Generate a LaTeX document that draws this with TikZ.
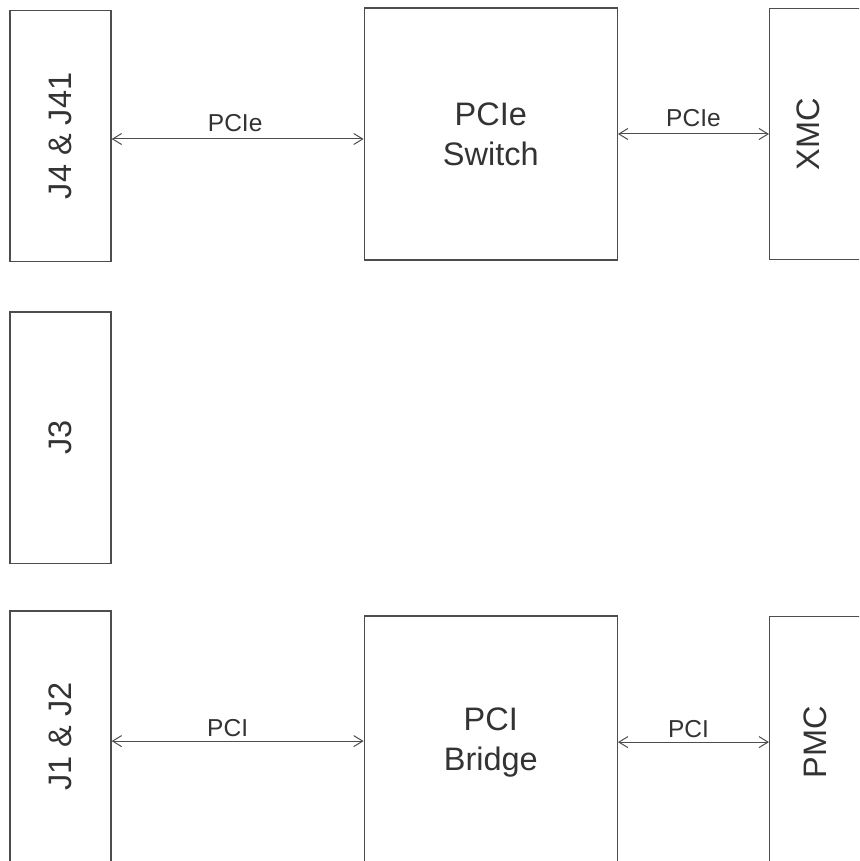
\documentclass[tikz,border=0pt]{standalone}
\usepackage{fontspec}
\setmainfont{Liberation Sans}
\usepackage{graphicx}
\usetikzlibrary{arrows.meta,positioning}
\definecolor{boxgray}{RGB}{77,77,77}
\definecolor{textgray}{RGB}{51,51,51}
\tikzset{
 slot/.style={
 rectangle,
 draw=boxgray,
 line width=1.3pt,
 minimum width=101pt,
 minimum height=251.5pt,
 inner sep=0pt,
 text=textgray,
 font=\fontsize{32.5}{40}\selectfont
 },
 chip/.style={
 rectangle,
 draw=boxgray,
 line width=1.3pt,
 minimum width=253pt,
 minimum height=252pt,
 inner sep=0pt,
 align=center,
 text=textgray,
 font=\fontsize{32.5}{40}\selectfont
 },
 buslink/.style={{Straight Barb[length=9pt,width=11pt]}-{Straight Barb[length=9pt,width=11pt]}, line width=1pt, draw=boxgray},
 buslabel/.style={inner sep=0pt, text=textgray, font=\fontsize{24.5}{29}\selectfont}
}

\begin{document}
\begin{tikzpicture}[x=1pt, y=-1pt]
 \useasboundingbox (0,0) rectangle (859,861);
 \clip (0,0) rectangle (859,861);

 \node[slot] (j4) at (60.5,136) {\rotatebox{90}{J4 \& J41}};
 \node[slot, below=49pt of j4] (j3) {\rotatebox{90}{J3}};
 \node[slot, below=46pt of j3] (j1) {\rotatebox{90}{J1 \& J2}};
 \node[chip, right=252pt of j4, yshift=2pt] (switch) {PCIe\\Switch};
 \node[chip, right=252pt of j1, yshift=-5.5pt] (bridge) {PCI\\Bridge};
 \node[slot, right=151pt of switch] (xmc) {\rotatebox{90}{XMC}\hspace*{24pt}};
 \node[slot, right=151pt of bridge] (pmc) {\rotatebox{90}{PMC}\hspace*{9pt}};

 \draw[buslink] ([yshift=-3pt]j4.east) -- node[buslabel, above=7pt, xshift=-2.5pt] {PCIe} ([yshift=-3pt]j4.east -| switch.west);
 \draw[buslink] (switch.east) -- node[buslabel, above=7pt] {PCIe} (switch.east -| xmc.west);
 \draw[buslink] ([yshift=-4.5pt]j1.east) -- node[buslabel, above=4pt, xshift=-10pt] {PCI} ([yshift=-4.5pt]j1.east -| bridge.west);
 \draw[buslink] (bridge.east) -- node[buslabel, above=4pt, xshift=-5pt] {PCI} (bridge.east -| pmc.west);
\end{tikzpicture}
\end{document}
